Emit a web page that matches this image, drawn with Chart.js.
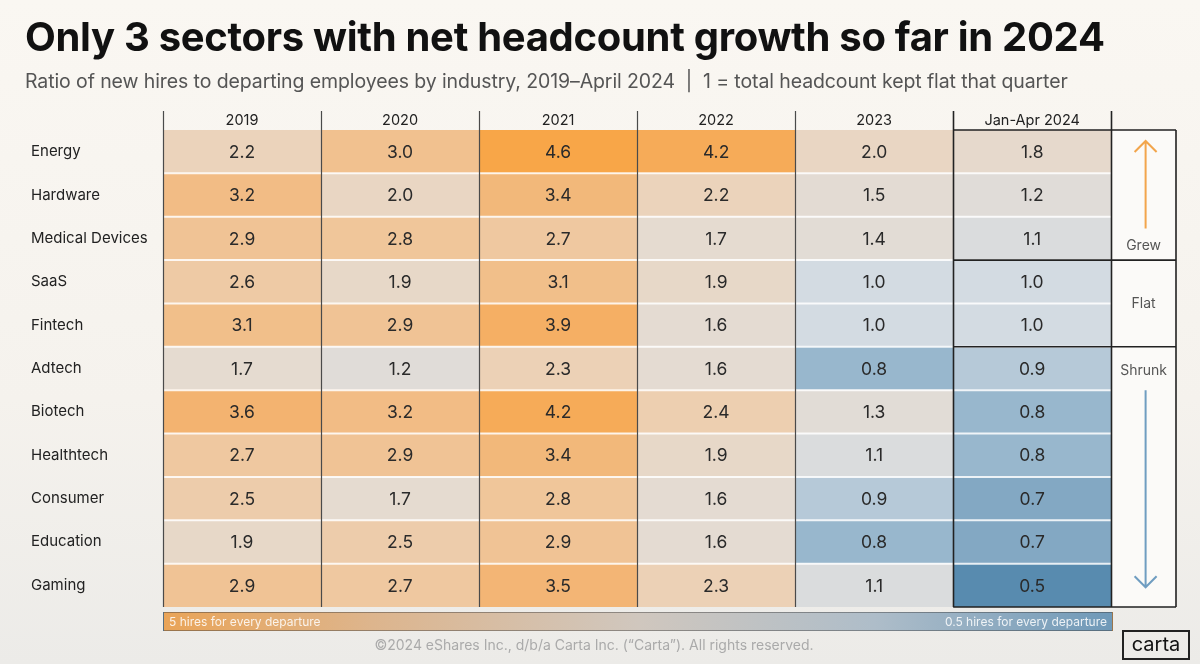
<!DOCTYPE html>
<html>
<head>
<meta charset="utf-8">
<title>Net headcount growth by sector</title>
<script src="https://cdn.jsdelivr.net/npm/chart.js@4.4.1/dist/chart.umd.min.js"></script>
<style>
  html, body { margin: 0; padding: 0; }
  body {
    width: 1200px; height: 664px; overflow: hidden; position: relative;
    background: linear-gradient(180deg, #faf7f2 0%, #f5f2ed 60%, #ecebe8 100%);
    font-family: Inter, "Noto Sans", sans-serif;
  }
  .wrap { position: absolute; left: 0; top: 0; width: 1200px; height: 664px; }
  .title { position: absolute; left: 25px; top: 12px; font-size: 40px; font-weight: 700; color: #111; letter-spacing: -0.3px; white-space: nowrap; }
  .subtitle { position: absolute; left: 25px; top: 69px; font-size: 19.5px; color: #555; white-space: nowrap; letter-spacing: -0.1px; }
  .scalebar {
    position: absolute; left: 163px; top: 612px; width: 948px; height: 17px;
    border: 1px solid rgba(60,60,60,0.45);
    background: linear-gradient(90deg, #e9a458 0%, #ddb58d 22%, #d0c7be 50%, #aebdc9 75%, #6f99b8 100%);
    font-size: 12px; line-height: 17px; color: rgba(255,255,255,0.85);
  }
  .scalebar .l { position: absolute; left: 5px; }
  .scalebar .r { position: absolute; right: 5px; }
  .footer { position: absolute; left: 0; width: 1188px; top: 636px; text-align: center; font-size: 14px; color: #aaa; }
  .logo { position: absolute; left: 1122px; top: 630px; width: 64px; height: 26px; border: 2px solid #222; font-size: 20px; line-height: 25px; text-align: center; color: #111; }
</style>
</head>
<body>
<div class="wrap"><canvas id="heatChart"></canvas></div>
<div class="title">Only 3 sectors with net headcount growth so far in 2024</div>
<div class="subtitle">Ratio of new hires to departing employees by industry, 2019–April 2024 &nbsp;|&nbsp; 1 = total headcount kept flat that quarter</div>
<div class="scalebar"><span class="l">5 hires for every departure</span><span class="r">0.5 hires for every departure</span></div>
<div class="footer">©2024 eShares Inc., d/b/a Carta Inc. (“Carta”). All rights reserved.</div>
<div class="logo">carta</div>
<script>
// rows and columns of the table
const industries = ['Energy', 'Hardware', 'Medical Devices', 'SaaS', 'Fintech', 'Adtech',
  'Biotech', 'Healthtech', 'Consumer', 'Education', 'Gaming'];
const columns = ['2019', '2020', '2021', '2022', '2023', 'Jan-Apr 2024'];

// hires / departures ratio per year
const y2019 = [2.2, 3.2, 2.9, 2.6, 3.1, 1.7, 3.6, 2.7, 2.5, 1.9, 2.9];
const y2020 = [3.0, 2.0, 2.8, 1.9, 2.9, 1.2, 3.2, 2.9, 1.7, 2.5, 2.7];
const y2021 = [4.6, 3.4, 2.7, 3.1, 3.9, 2.3, 4.2, 3.4, 2.8, 2.9, 3.5];
const y2022 = [4.2, 2.2, 1.7, 1.9, 1.6, 1.6, 2.4, 1.9, 1.6, 1.6, 2.3];
const y2023 = [2.0, 1.5, 1.4, 1.0, 1.0, 0.8, 1.3, 1.1, 0.9, 0.8, 1.1];
const y2024 = [1.8, 1.2, 1.1, 1.0, 1.0, 0.9, 0.8, 0.8, 0.7, 0.7, 0.5];
const yearValues = [y2019, y2020, y2021, y2022, y2023, y2024];

// 2024 grouping: label, first row, last row
const groupLabels = ['Grew', 'Flat', 'Shrunk'];
const groupFirst = [0, 3, 5];
const groupLast = [2, 4, 10];

// colour ramp, blue (shrinking) -> grey (flat) -> orange (growing)
const rampStops = [
  [0.5, [88, 139, 175]],
  [0.8, [152, 183, 205]],
  [1.0, [211, 219, 226]],
  [1.2, [224, 220, 216]],
  [1.7, [229, 219, 208]],
  [2.2, [235, 211, 187]],
  [3.0, [241, 193, 143]],
  [3.6, [243, 179, 112]],
  [4.6, [248, 166, 72]]
];
function rampColor(v) {
  if (v <= rampStops[0][0]) return 'rgb(' + rampStops[0][1].join(',') + ')';
  for (let i = 1; i < rampStops.length; i++) {
    const [v1, c1] = rampStops[i];
    const [v0, c0] = rampStops[i - 1];
    if (v <= v1) {
      const t = (v - v0) / (v1 - v0);
      const c = c0.map((k, j) => Math.round(k + (c1[j] - k) * t));
      return 'rgb(' + c.join(',') + ')';
    }
  }
  return 'rgb(' + rampStops[rampStops.length - 1][1].join(',') + ')';
}

const NOTE_END = 6.41; // extra room on the x scale for the Grew/Flat/Shrunk column
const FONT = "Inter, 'Noto Sans', sans-serif";

const tablePlugin = {
  id: 'tableDecor',
  beforeDatasetsDraw(chart) {
    const { ctx, chartArea: a, scales: { x } } = chart;
    ctx.save();
    ctx.fillStyle = '#fbfaf8';
    ctx.fillRect(x.getPixelForValue(6), a.top, x.getPixelForValue(NOTE_END) - x.getPixelForValue(6), a.bottom - a.top);
    ctx.restore();
  },
  afterDatasetsDraw(chart) {
    const { ctx, chartArea: a, scales: { x, y } } = chart;
    const rowEdge = (r) => (y.getPixelForValue(r - 1) + y.getPixelForValue(r)) / 2;
    const rowTop = (r) => r === 0 ? a.top : rowEdge(r);
    const rowBottom = (r) => r === industries.length - 1 ? a.bottom : rowEdge(r + 1);
    ctx.save();

    // white row separators
    ctx.strokeStyle = 'rgba(255,255,255,0.85)';
    ctx.lineWidth = 2;
    for (let r = 1; r < industries.length; r++) {
      const py = rowEdge(r);
      ctx.beginPath();
      ctx.moveTo(x.getPixelForValue(0), py);
      ctx.lineTo(x.getPixelForValue(6), py);
      ctx.stroke();
    }

    // column dividers
    for (let c = 0; c <= 6; c++) {
      const px = Math.round(x.getPixelForValue(c)) + 0.5;
      ctx.strokeStyle = c >= 5 ? '#222' : '#4a4a4a';
      ctx.lineWidth = c >= 5 ? 1.6 : 1.2;
      ctx.beginPath();
      ctx.moveTo(px, a.top - 19);
      ctx.lineTo(px, a.bottom);
      ctx.stroke();
    }

    // box round the 2024 column and the notes column
    const bx0 = x.getPixelForValue(5), bx1 = x.getPixelForValue(NOTE_END);
    ctx.strokeStyle = '#222';
    ctx.lineWidth = 1.6;
    ctx.beginPath();
    ctx.moveTo(bx1, a.top);
    ctx.lineTo(bx1, a.bottom);
    ctx.moveTo(bx0, a.top);
    ctx.lineTo(bx1, a.top);
    ctx.moveTo(bx0, a.bottom);
    ctx.lineTo(bx1, a.bottom);
    for (let g = 1; g < groupFirst.length; g++) {
      const py = rowTop(groupFirst[g]);
      ctx.moveTo(bx0, py);
      ctx.lineTo(bx1, py);
    }
    ctx.stroke();

    // cell values
    ctx.fillStyle = '#2a2a2a';
    ctx.font = '17.5px ' + FONT;
    ctx.textAlign = 'center';
    ctx.textBaseline = 'middle';
    chart.data.datasets.forEach((ds, d) => {
      chart.getDatasetMeta(d).data.forEach((bar, r) => {
        ctx.fillText(yearValues[d][r].toFixed(1), (bar.x + bar.base) / 2, bar.y + 1);
      });
    });

    // Grew / Flat / Shrunk notes with arrows
    const nx = (x.getPixelForValue(6) + bx1) / 2;
    ctx.fillStyle = '#555';
    ctx.font = '14px ' + FONT;
    ctx.fillText(groupLabels[0], nx, y.getPixelForValue(groupLast[0]) + 7);
    ctx.fillText(groupLabels[1], nx, (rowTop(groupFirst[1]) + rowBottom(groupLast[1])) / 2);
    ctx.fillText(groupLabels[2], nx, y.getPixelForValue(groupFirst[2]) + 2);

    const ax = nx + 2;
    ctx.lineWidth = 2;
    ctx.strokeStyle = '#f2a54c';
    let tip = rowTop(groupFirst[0]) + 11;
    ctx.beginPath();
    ctx.moveTo(ax, y.getPixelForValue(groupLast[0]) - 10);
    ctx.lineTo(ax, tip);
    ctx.moveTo(ax - 11, tip + 11);
    ctx.lineTo(ax, tip);
    ctx.lineTo(ax + 11, tip + 11);
    ctx.stroke();

    ctx.strokeStyle = '#6f9dc1';
    tip = y.getPixelForValue(groupLast[2]) + 2;
    ctx.beginPath();
    ctx.moveTo(ax, rowTop(groupFirst[2] + 1));
    ctx.lineTo(ax, tip);
    ctx.moveTo(ax - 11, tip - 11);
    ctx.lineTo(ax, tip);
    ctx.lineTo(ax + 11, tip - 11);
    ctx.stroke();

    ctx.restore();
  }
};

const ctx = document.getElementById('heatChart').getContext('2d');
new Chart(ctx, {
  type: 'bar',
  data: {
    labels: industries,
    datasets: yearValues.map((vals, c) => ({
      label: columns[c],
      data: vals.map(() => [c, c + 1]),
      backgroundColor: vals.map(rampColor),
      borderWidth: 0,
      barPercentage: 1,
      categoryPercentage: 1,
      grouped: false
    }))
  },
  options: {
    indexAxis: 'y',
    responsive: true,
    maintainAspectRatio: false,
    animation: false,
    layout: { padding: { left: 31, right: 24, top: 0, bottom: 57 } },
    plugins: {
      legend: { display: false },
      tooltip: { enabled: false }
    },
    scales: {
      x: {
        type: 'linear',
        position: 'top',
        min: 0,
        max: NOTE_END,
        grid: { display: false, drawTicks: false },
        border: { display: false },
        afterFit: (scale) => { scale.height = 130; },
        afterBuildTicks: (scale) => { scale.ticks = columns.map((c, i) => ({ value: i + 0.5 })); },
        ticks: {
          autoSkip: false,
          maxRotation: 0,
          padding: 1,
          color: '#222',
          font: { family: FONT, size: 14.5 },
          callback: (v, i) => columns[i]
        }
      },
      y: {
        type: 'category',
        grid: { display: false, drawTicks: false },
        border: { display: false },
        afterFit: (scale) => { scale.width = 132; },
        ticks: {
          crossAlign: 'far',
          color: '#222',
          font: { family: FONT, size: 15 }
        }
      }
    }
  },
  plugins: [tablePlugin]
});
</script>
</body>
</html>
